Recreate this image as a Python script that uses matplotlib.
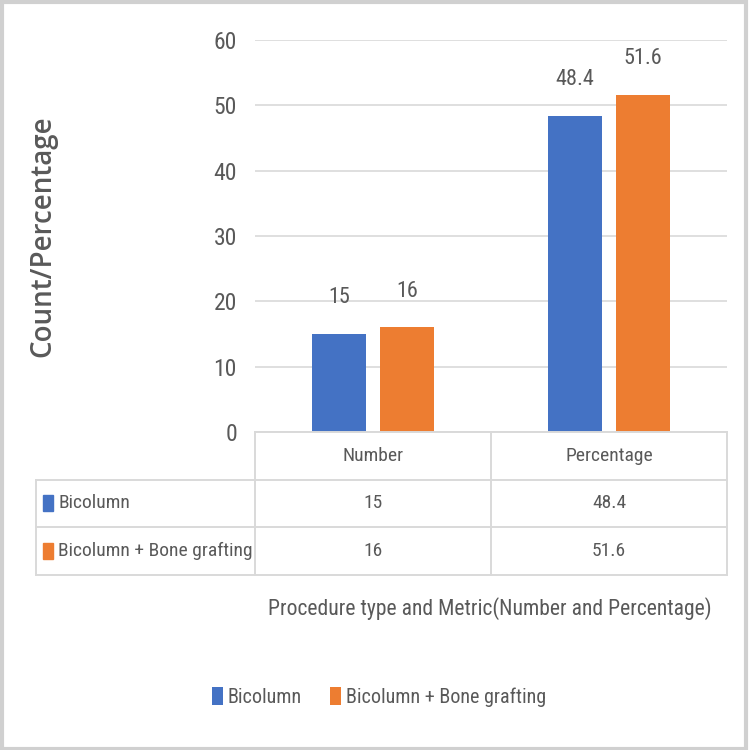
import matplotlib
matplotlib.use("Agg")
import matplotlib.pyplot as plt
from matplotlib import font_manager as fm
from matplotlib.patches import Rectangle

categories = ["Number", "Percentage"]
series_names = ["Bicolumn", "Bicolumn + Bone grafting"]
bicolumn = [15, 48.4]
bicolumn_graft = [16, 51.6]
series_values = [bicolumn, bicolumn_graft]
value_labels = [["15", "48.4"], ["16", "51.6"]]
yticks = [0, 10, 20, 30, 40, 50, 60]
colors = ["#4472C4", "#ED7D31"]
y_label = "Count/Percentage"
x_label = "Procedure type and Metric(Number and Percentage)"

regular = {f.name for f in fm.fontManager.ttflist
           if f.weight in (400, "normal", "regular") and f.style == "normal"}
cands = ["Roboto Condensed", "Open Sans Condensed", "Archivo Narrow", "Barlow Semi Condensed",
         "Carlito", "DejaVu Sans"]
narrow = next(c for c in cands if c in regular)
plt.rcParams["font.family"] = [narrow, "DejaVu Sans"]
plt.rcParams["font.weight"] = "normal"
TXT = "#595959"
GRID = "#d9d9d9"

W = H = 750
fig = plt.figure(figsize=(7.5, 7.5), dpi=100)

def fx(x):
    return x / W

def fy(y):
    return 1 - y / H

fig.patches.append(Rectangle((0.002, 0.002), 0.992, 0.995, transform=fig.transFigure,
                             fill=False, edgecolor="#d0d0d0", linewidth=3))

ax_l, ax_r, ax_t, ax_b = 255, 727, 40, 432
ax = fig.add_axes([fx(ax_l), fy(ax_b), (ax_r - ax_l) / W, (ax_b - ax_t) / H])
ax.set_xlim(-0.5, 1.5)
ax.set_ylim(0, 60)
for s in ax.spines.values():
    s.set_visible(False)
ax.set_yticks(yticks)
ax.tick_params(axis="y", length=0, pad=13, labelsize=17, labelcolor=TXT)
ax.set_xticks([])
ax.grid(axis="y", color=GRID, linewidth=1.2)
ax.set_axisbelow(True)

bw = 0.225
offs = [-0.144, 0.144]
xs = list(range(len(categories)))
bars = []
for i, (vals, c, nm) in enumerate(zip(series_values, colors, series_names)):
    b = ax.bar([x + offs[i] for x in xs], vals, width=bw, color=c, label=nm, zorder=3)
    bars.append(b)
    for x, v, lab in zip(xs, vals, value_labels[i]):
        ax.annotate(lab, (x + offs[i], v), xytext=(0, 26), textcoords="offset points",
                    ha="center", va="center", fontsize=16, color=TXT)

def px_y(y):
    return (ax_b - y) / (ax_b - ax_t) * 60

def px_x(x):
    return (x - ax_l) / (ax_r - ax_l) * 2 - 0.5

rows_y = [432, 480, 527, 575]
tbl_left = 36
kw = dict(color=GRID, linewidth=1.4, clip_on=False, zorder=4)
ax.plot([px_x(255), px_x(727)], [px_y(432)] * 2, **kw)
for yy in rows_y[1:]:
    ax.plot([px_x(tbl_left), px_x(727)], [px_y(yy)] * 2, **kw)
for xb in [-0.5, 0.5, 1.5]:
    ax.plot([xb, xb], [px_y(432), px_y(575)], **kw)
ax.plot([px_x(tbl_left)] * 2, [px_y(480), px_y(575)], **kw)

for x, cat in zip(xs, categories):
    ax.text(x, px_y(456), cat, ha="center", va="center", fontsize=14, color=TXT, clip_on=False)
for r, (vals, labs) in enumerate(zip(series_values, value_labels)):
    yc = px_y((rows_y[r + 1] + rows_y[r + 2]) / 2)
    for x, lab in zip(xs, labs):
        ax.text(x, yc, lab, ha="center", va="center", fontsize=14, color=TXT, clip_on=False)
    ax.text(px_x(58), yc, series_names[r], ha="left", va="center", fontsize=14,
            color=TXT, clip_on=False)
    hh = px_y(495) - px_y(511)
    ax.add_patch(Rectangle((px_x(43), yc - hh / 2), px_x(53) - px_x(43), hh,
                           color=colors[r], clip_on=False, zorder=5))

fig.text(fx(490), fy(609), x_label, ha="center", va="center", fontsize=15.6, color=TXT)
fig.text(fx(43), fy(236), y_label, ha="center", va="center", rotation=90, fontsize=20,
         color=TXT, fontweight="semibold", family=["Open Sans", "DejaVu Sans"])

fig.legend(handles=bars, labels=series_names, loc="center", bbox_to_anchor=(fx(379), fy(697)),
           ncol=2, frameon=False, fontsize=14.5, labelcolor=TXT, handlelength=0.55,
           handleheight=0.95, handletextpad=0.25, columnspacing=1.4)

fig.savefig("out.png", dpi=100)
